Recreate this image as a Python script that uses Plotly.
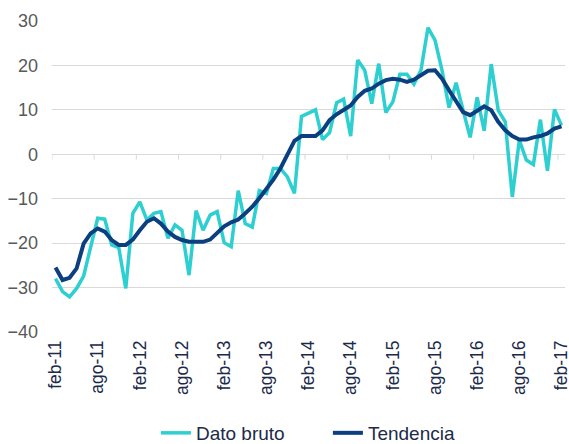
import plotly.graph_objects as go

months_es = ["ene", "feb", "mar", "abr", "may", "jun", "jul", "ago", "sep", "oct", "nov", "dic"]
# Monthly categories feb-11 .. feb-17
categories = [f"{months_es[(1 + k) % 12]}-{11 + (1 + k) // 12:02d}" for k in range(73)]

dato_bruto = [
    -28.0, -30.9, -32.1, -30.2, -27.4, -20.8, -14.4, -14.6, -20.4, -21.0,
    -30.2, -13.3, -10.7, -14.8, -13.3, -12.9, -18.9, -15.9, -17.1, -27.2,
    -12.7, -17.1, -13.7, -12.9, -19.9, -20.8, -8.2, -15.6, -16.4, -8.2,
    -8.8, -3.2, -3.2, -5.1, -8.8, 8.5, 9.3, 10.0, 3.3, 4.9,
    11.6, 12.4, 4.1, 21.2, 18.9, 11.4, 20.4, 9.4, 11.8, 18.0,
    18.0, 15.8, 18.9, 28.5, 25.7, 18.9, 10.5, 16.1, 9.9, 3.8,
    12.8, 5.3, 20.3, 9.9, 7.3, -9.6, 3.2, -1.3, -2.3, 7.8,
    -3.7, 10.1, 6.5,
]

tendencia = [
    -25.5, -28.3, -27.8, -25.7, -20.1, -17.8, -16.7, -17.4, -19.3, -20.4,
    -20.4, -19.2, -17.1, -15.2, -14.4, -15.6, -17.4, -18.6, -19.3, -19.7,
    -19.7, -19.7, -19.2, -17.6, -16.2, -15.3, -14.7, -13.3, -11.8, -9.9,
    -7.9, -5.7, -3.2, -0.2, 3.0, 4.1, 4.0, 4.1, 5.4, 7.7,
    9.0, 9.9, 11.0, 12.9, 14.3, 14.8, 15.9, 16.7, 17.0, 16.8,
    16.3, 16.8, 17.8, 18.8, 18.9, 17.0, 14.4, 11.8, 9.5, 8.8,
    9.8, 10.8, 9.9, 7.3, 5.4, 4.1, 3.3, 3.3, 3.8, 4.1,
    4.7, 5.8, 6.3,
]

y_ticks = [-40, -30, -20, -10, 0, 10, 20, 30]
label_every = 6

BRUTO_COLOR = "#2ECFD0"
TEND_COLOR = "#0B3F7F"
GRID = "#D9D9D9"
FONT = "Liberation Sans, Arial, sans-serif"
TEXT_DARK = "#1B2A4A"

fig = go.Figure()
fig.add_trace(go.Scatter(x=categories, y=dato_bruto, mode="lines", name="Dato bruto",
                         line=dict(color=BRUTO_COLOR, width=3.5)))
fig.add_trace(go.Scatter(x=categories, y=tendencia, mode="lines", name="Tendencia",
                         line=dict(color=TEND_COLOR, width=4)))

# small tick marks on the zero line, between categories every 6 months
for k in range(0, len(categories), label_every):
    fig.add_shape(type="line", xref="x", yref="y", x0=k - 0.5, x1=k - 0.5, y0=0, y1=-1.2,
                  line=dict(color=GRID, width=1), layer="below")

fig.update_layout(
    width=569, height=444,
    margin=dict(l=52, r=4, t=21, b=112),
    paper_bgcolor="white", plot_bgcolor="white",
    font=dict(family=FONT, size=18, color="#595959"),
    showlegend=True,
    legend=dict(orientation="h", xref="container", yref="container",
                x=0.274, xanchor="left", y=0.0676, yanchor="top",
                font=dict(size=19, color=TEXT_DARK), entrywidth=127, entrywidthmode="pixels"),
    xaxis=dict(
        type="category",
        range=[-0.5, len(categories) - 0.5],
        tickmode="array",
        tickvals=categories[::label_every],
        ticktext=categories[::label_every],
        tickangle=-90,
        tickfont=dict(size=17.5, color=TEXT_DARK),
        showgrid=False, zeroline=False, showline=False, ticks="",
        ticklabelstandoff=4,
        automargin=False,
    ),
    yaxis=dict(
        range=[-40, 30],
        tickvals=y_ticks,
        showgrid=True, gridcolor=GRID, gridwidth=1,
        zeroline=True, zerolinecolor=GRID, zerolinewidth=1,
        showline=False, ticks="",
        tickfont=dict(size=18, color="#595959"),
        ticklabelstandoff=13,
        automargin=False,
    ),
)

fig.write_html(
    "out.html",
    config={"displayModeBar": False},
    post_script="document.body.style.margin='0';document.body.style.overflow='hidden';",
)
